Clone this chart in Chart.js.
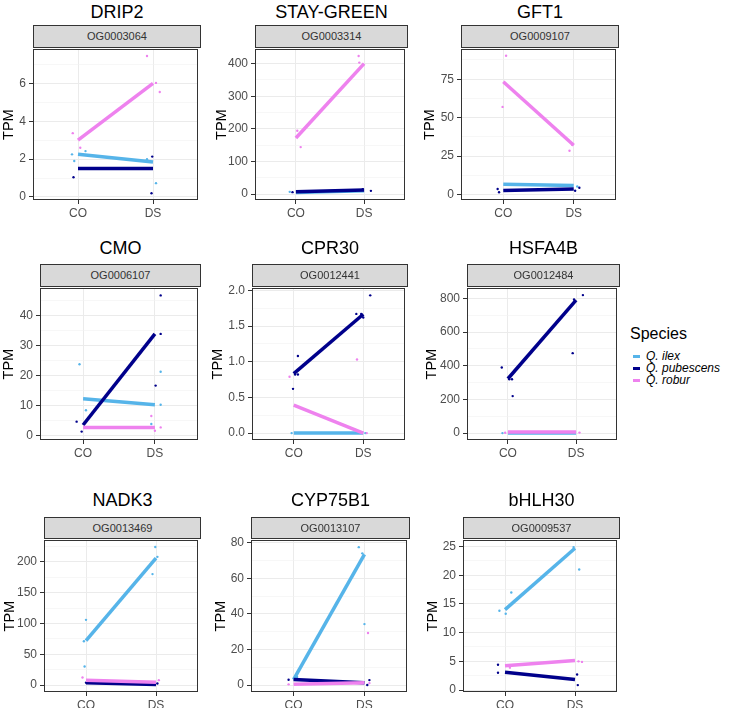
<!DOCTYPE html>
<html>
<head>
<meta charset="utf-8">
<script src="https://cdn.jsdelivr.net/npm/chart.js@4.4.0/dist/chart.umd.min.js"></script>
<style>
  html, body { margin: 0; padding: 0; background: #fff; }
  #figure { position: relative; width: 744px; height: 708px; overflow: hidden;
            font-family: 'Liberation Sans', Arial, Helvetica, sans-serif; }
  .gene-title { position: absolute; font-size: 18px; line-height: 20px; color: #000;
                text-align: center; white-space: nowrap; z-index: 3; }
  .strip { position: absolute; box-sizing: border-box; background: #D9D9D9;
           border: 1px solid #333; font-size: 11px; color: #333; text-align: center; z-index: 2; }
  canvas { position: absolute; z-index: 1; }
  .legend-title { position: absolute; font-size: 16px; line-height: 18px; color: #000; }
  .legend-item { position: absolute; font-size: 12px; line-height: 12px; font-style: italic; color: #000; white-space: nowrap; }
  .legend-key { position: absolute; width: 7px; height: 3px; }
</style>
</head>
<body>
<div id="figure"></div>
<script>
// ---- data ----
const conditions = ['CO', 'DS'];
const species = ['Q. ilex', 'Q. pubescens', 'Q. robur'];
const genes = ['DRIP2', 'STAY-GREEN', 'GFT1', 'CMO', 'CPR30', 'HSFA4B', 'NADK3', 'CYP75B1', 'bHLH30'];
const orthogroups = ['OG0003064', 'OG0003314', 'OG0009107', 'OG0006107', 'OG0012441',
                     'OG0012484', 'OG0013469', 'OG0013107', 'OG0009537'];

// mean TPM per gene, [CO, DS]
const ilexMeans      = [[2.25, 1.85], [5, 10], [6.8, 5.9], [12.2, 10.25], [0, 0], [1, 1], [72.3, 206], [3.0, 73.5], [14.0, 24.7]];
const pubescensMeans = [[1.5, 1.5], [7, 13], [2.7, 3.6], [3.5, 33.8], [0.833, 1.665], [323, 790], [3.7, 1.0], [3.2, 1.3], [3.1, 1.83]];
const roburMeans     = [[3.0, 6.0], [172, 400], [73.3, 32.1], [2.7, 2.7], [0.39, 0], [6, 6], [8, 4.8], [0.4, 1.3], [4.23, 5.14]];

// replicate samples per gene: [jittered condition (1 = CO, 2 = DS), TPM]
const ilexSamples = [
  [[0.92, 2.25], [0.95, 1.9], [1.1, 2.42], [1.92, 1.99], [2.04, 0.73]],
  [[0.91, 7]],
  [[2.05, 5.3]],
  [[0.95, 23.7], [1.04, 8.4], [2.08, 21.2], [2.08, 10.25], [1.95, 3.8]],
  [[0.97, 0], [2.03, 0]],
  [[0.92, 0]],
  [[1.0, 105.8], [0.97, 71], [0.98, 30.2], [1.99, 224], [1.95, 180], [2.02, 208]],
  [[1.92, 77.6], [1.97, 74.1], [2.0, 34.3], [1.05, 4.5]],
  [[0.92, 13.8], [1.01, 13.3], [1.09, 17.0], [1.98, 24.9], [2.06, 21.0]]
];
const pubescensSamples = [
  [[0.94, 1.04], [1.99, 2.13], [1.98, 0.2]],
  [[0.95, 6], [2.1, 10], [1.98, 15]],
  [[0.92, 3.6], [0.94, 1.5], [2.02, 2.5], [2.08, 4.5]],
  [[2.08, 46.6], [2.08, 33.8], [2.01, 16.6], [0.91, 4.6], [0.98, 1.3]],
  [[2.1, 1.93], [1.9, 1.67], [1.97, 1.67], [2.0, 1.62], [1.06, 1.08], [0.99, 0.62], [1.02, 0.82], [1.06, 0.82]],
  [[0.91, 390], [1.07, 220], [1.06, 320], [1.02, 320], [1.95, 475], [2.1, 820], [1.97, 794]],
  [[1.0, 4], [2.02, 2.6]],
  [[0.93, 3.0], [2.07, 2.8], [2.04, 0]],
  [[0.9, 4.4], [0.9, 3.0], [2.03, 2.7], [2.04, 0.86]]
];
const roburSamples = [
  [[0.93, 3.37], [1.03, 2.6], [1.92, 7.44], [2.04, 6.02], [2.09, 5.54]],
  [[1.02, 194], [1.07, 144], [1.92, 423], [1.93, 403]],
  [[1.04, 90.2], [0.99, 57], [1.94, 28.5], [1.98, 32.3]],
  [[1.95, 6.5], [2.08, 2.7], [2.0, 1.6]],
  [[0.94, 0.79], [1.91, 1.03], [2.05, 0]],
  [[0.96, 2], [2.05, 3]],
  [[0.95, 12.2], [2.04, 8]],
  [[0.93, 0.4], [2.07, 1.1], [2.05, 29.3]],
  [[1.07, 3.9], [1.95, 5.1], [2.05, 5.0], [2.1, 4.9]]
];

const yTickLabels = [
  ['0', '2', '4', '6'],
  ['0', '100', '200', '300', '400'],
  ['0', '25', '50', '75'],
  ['0', '10', '20', '30', '40'],
  ['0.0', '0.5', '1.0', '1.5', '2.0'],
  ['0', '200', '400', '600', '800'],
  ['0', '50', '100', '150', '200'],
  ['0', '20', '40', '60', '80'],
  ['0', '5', '10', '15', '20', '25']
];
const yLimits = [[-0.16, 7.8], [-18, 444], [-3.5, 94.5], [-1.5, 49], [-0.097, 2.03],
                 [-41, 861], [-11.2, 235], [-3.9, 81.5], [-0.34, 26.1]];

// ---- layout ----
const rowGeom = [
  { titleY: 12, stripTop: 25, plotTop: 47, plotBottom: 200 },
  { titleY: 248, stripTop: 264, plotTop: 286, plotBottom: 440 },
  { titleY: 500, stripTop: 517, plotTop: 538, plotBottom: 692 }
];
const plotLeft  = [33, 255, 461, 40, 252, 467, 44, 251, 463];
const plotRight = [201, 408, 619, 201, 408, 620, 201, 410, 620];
const axisTitleX = [9, 222, 430, 9, 218, 432, 10, 221, 433];

const colors = ['#56B4E9', '#00008B', '#EE82EE'];
const FONT = "'Liberation Sans', Arial, Helvetica, sans-serif";
const TOP_PAD = 8;
const X_AXIS_H = 20;

const meansBySpecies = [ilexMeans, pubescensMeans, roburMeans];
const samplesBySpecies = [ilexSamples, pubescensSamples, roburSamples];

/**
 * Major ticks from the labels plus ggplot-style minor ticks halfway between
 */
function buildYTicks(labels, limits) {
  const majors = labels.map(Number);
  const half = (majors[1] - majors[0]) / 2;
  const ticks = [];
  const kMin = Math.ceil((limits[0] - majors[0]) / half);
  const kMax = Math.floor((limits[1] - majors[0]) / half);
  for (let k = kMin; k <= kMax; k++) {
    const v = Math.round((majors[0] + k * half) * 1e6) / 1e6;
    const isMajor = k % 2 === 0 && k >= 0 && k / 2 < labels.length;
    ticks.push({ value: v, minor: !isMajor, text: isMajor ? labels[k / 2] : '' });
  }
  return ticks;
}

const panelBorder = {
  id: 'panelBorder',
  afterDraw(chart) {
    const { ctx, chartArea: a } = chart;
    ctx.save();
    ctx.strokeStyle = '#333333';
    ctx.lineWidth = 1;
    ctx.strokeRect(Math.round(a.left) + 0.5, Math.round(a.top) + 0.5,
                   Math.round(a.right - a.left) - 1, Math.round(a.bottom - a.top) - 1);
    ctx.restore();
  }
};

const figure = document.getElementById('figure');

function addDiv(cls, text, style) {
  const d = document.createElement('div');
  d.className = cls;
  d.textContent = text;
  Object.assign(d.style, style);
  figure.appendChild(d);
  return d;
}

function renderPanel(i) {
  const row = rowGeom[Math.floor(i / 3)];
  const left = plotLeft[i], right = plotRight[i];

  addDiv('gene-title', genes[i], {
    left: left + 'px', width: (right - left) + 'px', top: (row.titleY - 10) + 'px'
  });
  const stripH = row.plotTop - row.stripTop + 1;
  addDiv('strip', orthogroups[i], {
    left: left + 'px', width: (right - left) + 'px', top: row.stripTop + 'px',
    height: stripH + 'px', lineHeight: (stripH - 2) + 'px'
  });

  const canvasLeft = Math.max(0, axisTitleX[i] - 9);
  const canvas = document.createElement('canvas');
  canvas.width = right - canvasLeft + 1;
  canvas.height = row.plotBottom - row.plotTop + TOP_PAD + X_AXIS_H;
  canvas.style.left = canvasLeft + 'px';
  canvas.style.top = (row.plotTop - TOP_PAD) + 'px';
  figure.appendChild(canvas);

  const yTicks = buildYTicks(yTickLabels[i], yLimits[i]);
  const xTicks = conditions.map((c, k) => ({ value: k + 1, text: c }));

  const datasets = [];
  // mean lines: robur drawn on top, then pubescens, then ilex
  species.forEach((sp, s) => {
    datasets.push({
      label: sp,
      data: meansBySpecies[s][i].map((v, k) => ({ x: k + 1, y: v })),
      showLine: true,
      borderColor: colors[s],
      backgroundColor: colors[s],
      borderWidth: 3.5,
      pointRadius: 0,
      order: 3 - s
    });
  });
  species.forEach((sp, s) => {
    datasets.push({
      label: sp + ' samples',
      data: samplesBySpecies[s][i].map(p => ({ x: p[0], y: p[1] })),
      showLine: false,
      backgroundColor: colors[s],
      borderWidth: 0,
      pointRadius: 1.2,
      order: 6 - s
    });
  });

  new Chart(canvas.getContext('2d'), {
    type: 'scatter',
    data: { datasets },
    options: {
      responsive: false,
      animation: false,
      devicePixelRatio: 1,
      layout: { padding: { left: 0, right: 1, top: TOP_PAD, bottom: 0 } },
      plugins: { legend: { display: false }, tooltip: { enabled: false }, title: { display: false } },
      scales: {
        x: {
          type: 'linear',
          min: 0.4,
          max: 2.6,
          afterBuildTicks: (scale) => { scale.ticks = xTicks.map(t => ({ ...t })); },
          afterFit: (scale) => { scale.height = X_AXIS_H; },
          border: { display: false },
          grid: { color: '#EBEBEB', lineWidth: 1, tickColor: '#333333', tickLength: 4, tickWidth: 1 },
          ticks: {
            autoSkip: false, maxRotation: 0, padding: 2,
            color: '#4D4D4D', font: { family: FONT, size: 12 },
            callback: (v, idx, ticks) => ticks[idx].text
          }
        },
        y: {
          type: 'linear',
          min: yLimits[i][0],
          max: yLimits[i][1],
          afterBuildTicks: (scale) => { scale.ticks = yTicks.map(t => ({ ...t })); },
          afterFit: (scale) => { scale.width = left - canvasLeft; },
          border: { display: false },
          grid: {
            color: (ctx) => (ctx.tick && ctx.tick.minor ? '#F1F1F1' : '#EBEBEB'),
            lineWidth: (ctx) => (ctx.tick && ctx.tick.minor ? 0.6 : 1),
            tickColor: (ctx) => (ctx.tick && ctx.tick.minor ? 'rgba(0,0,0,0)' : '#333333'),
            tickWidth: 1,
            tickLength: 4
          },
          ticks: {
            autoSkip: false, padding: 3,
            color: '#4D4D4D', font: { family: FONT, size: 12 },
            callback: (v, idx, ticks) => ticks[idx].text
          },
          title: {
            display: true, text: 'TPM', color: '#000', padding: 0,
            font: { family: FONT, size: 14.5 }
          }
        }
      }
    },
    plugins: [panelBorder]
  });
}

genes.forEach((g, i) => renderPanel(i));

// ---- legend ----
addDiv('legend-title', 'Species', { left: '630px', top: '325px' });
const legendY = [356, 368, 380];
species.forEach((sp, s) => {
  const key = addDiv('legend-key', '', { left: '633px', top: (legendY[s] - 1.5) + 'px' });
  key.style.background = colors[s];
  addDiv('legend-item', sp, { left: '646px', top: (legendY[s] - 6) + 'px' });
});
</script>
</body>
</html>
